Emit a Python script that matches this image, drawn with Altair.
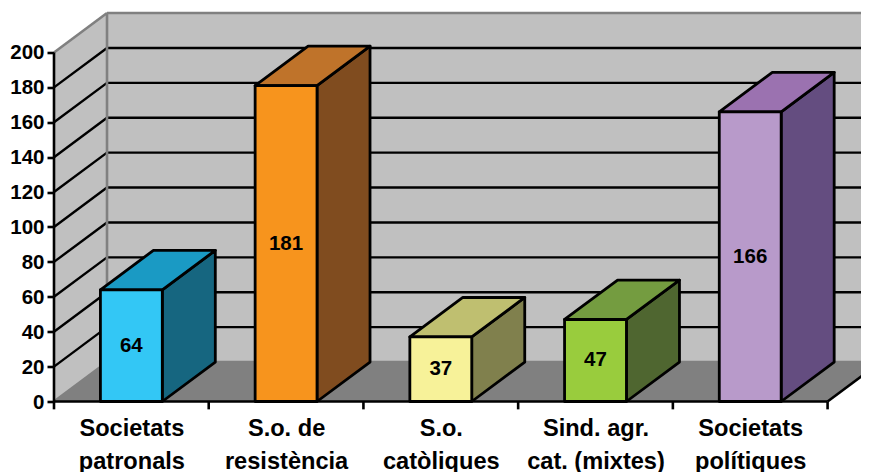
import json
import altair as alt
import pandas as pd

categories = ["Societats|patronals", "S.o. de|resistència", "S.o.|catòliques",
              "Sind. agr.|cat. (mixtes)", "Societats|polítiques"]
values = [64, 181, 37, 47, 166]
front_colors = ["#33C7F5", "#F7941D", "#F7F299", "#99CC3D", "#B89ACA"]
side_colors = ["#166680", "#804C1F", "#80804D", "#4F6630", "#644D80"]
top_colors = ["#1A9AC4", "#BF732A", "#BFBF70", "#749C40", "#9B72B0"]
grid_values = [20, 40, 60, 80, 100, 120, 140, 160, 180]
y_ticks = [0] + grid_values + [200]

D = 0.3426      # horizontal depth, category units
H = 22.6        # vertical depth, value units
W = 0.40        # bar width
N = len(values)
X_MAX = 5.216
Y_MAX = 225.2
WALL = "#C0C0C0"
FLOOR = "#808080"
EDGE = "#808080"

x_s = alt.Scale(domain=[0, X_MAX], nice=False, zero=False)
y_s = alt.Scale(domain=[0, Y_MAX], nice=False, zero=False)

axis_font = dict(labelFont="Liberation Sans", labelFontWeight="bold", labelColor="black")
split_expr = "split(" + json.dumps(categories, ensure_ascii=False) + "[floor(datum.value)], '|')"
x_axis = alt.Axis(values=[i + 0.5 for i in range(N)], labelExpr=split_expr, domain=False,
                  ticks=False, grid=False, labelFontSize=23.6, labelPadding=15,
                  labelLineHeight=33, labelOverlap=False, labelFlush=False, **axis_font)
y_axis = alt.Axis(values=y_ticks, domain=False, tickColor="black", tickSize=7,
                  tickWidth=2.6, grid=False, labelFontSize=20.5, labelPadding=3,
                  labelOffset=0.5, labelOverlap=False, labelFlush=False, **axis_font)


def X(field="x:Q"):
    return alt.X(field, scale=x_s, title=None, axis=x_axis)


def Y(field="y:Q"):
    return alt.Y(field, scale=y_s, title=None, axis=y_axis)


# background planes
planes = []
for px, lo, hi in [(0, 0, 200), (D, H, 200 + H)]:
    planes.append(dict(f="left", x=px, y=lo, y2=hi, c=WALL))
for px in [D, N + D]:
    planes.append(dict(f="back", x=px, y=H, y2=200 + H, c=WALL))
for px, lo, hi in [(0, 0, 0), (D, 0, H), (N, 0, H), (N + D, H, H)]:
    planes.append(dict(f="floor", x=px, y=lo, y2=hi, c=FLOOR))
planes = pd.DataFrame(planes)

back = alt.Chart(planes).mark_area(orient="vertical", stroke=None).encode(
    x=X(), y=Y(), y2="y2:Q", detail="f:N",
    color=alt.Color("c:N", scale=None))

# grid lines on the walls
seg = []
for v in grid_values:
    seg.append(dict(x=0, x2=D, y=v, y2=v + H))
    seg.append(dict(x=D, x2=N + D, y=v + H, y2=v + H))
grid = alt.Chart(pd.DataFrame(seg)).mark_rule(color="black", strokeWidth=2.4).encode(
    x=X(), x2="x2:Q", y=Y(), y2="y2:Q")

edges = pd.DataFrame([
    dict(x=0, x2=D, y=200, y2=200 + H),
    dict(x=D, x2=N + D, y=200 + H, y2=200 + H),
    dict(x=D, x2=D, y=H, y2=200 + H),
    dict(x=D, x2=N + D, y=H, y2=H),
    dict(x=0, x2=D, y=0, y2=H),
])
edge = alt.Chart(edges).mark_rule(color=EDGE, strokeWidth=2.6).encode(
    x=X(), x2="x2:Q", y=Y(), y2="y2:Q")

# black lines of the front of the box
lines = [dict(x=0, x2=N, y=0, y2=0), dict(x=N, x2=N + D, y=0, y2=H),
         dict(x=0, x2=0, y=0, y2=200)]
for i in range(N + 1):
    lines.append(dict(x=i, x2=i, y=0, y2=-4.5))
front_lines = alt.Chart(pd.DataFrame(lines)).mark_rule(color="black", strokeWidth=2.6).encode(
    x=X(), x2="x2:Q", y=Y(), y2="y2:Q")

# bars
fronts, sides, tops = [], [], []
for i, v in enumerate(values):
    x0 = i + 0.5 - W / 2
    x1 = x0 + W
    fronts.append(dict(x=x0, x2=x1, y=0, y2=v, c=front_colors[i], v=v, xc=i + 0.5, ym=v / 2))
    sides += [dict(f=i, x=x1, y=0, y2=v, c=side_colors[i]),
              dict(f=i, x=x1 + D, y=H, y2=v + H, c=side_colors[i])]
    tops += [dict(f=i, x=x0, y=v, y2=v, c=top_colors[i]),
             dict(f=i, x=x0 + D, y=v, y2=v + H, c=top_colors[i]),
             dict(f=i, x=x1, y=v, y2=v + H, c=top_colors[i]),
             dict(f=i, x=x1 + D, y=v + H, y2=v + H, c=top_colors[i])]

stroke = dict(stroke="black", strokeWidth=2.8, strokeJoin="round")
front = alt.Chart(pd.DataFrame(fronts)).mark_rect(**stroke).encode(
    x=X(), x2="x2:Q", y=Y(), y2="y2:Q", color=alt.Color("c:N", scale=None))
side = alt.Chart(pd.DataFrame(sides)).mark_area(orient="vertical", **stroke).encode(
    x=X(), y=Y(), y2="y2:Q", detail="f:N", color=alt.Color("c:N", scale=None))
top = alt.Chart(pd.DataFrame(tops)).mark_area(orient="vertical", **stroke).encode(
    x=X(), y=Y(), y2="y2:Q", detail="f:N", color=alt.Color("c:N", scale=None))
labels = alt.Chart(pd.DataFrame(fronts)).mark_text(
    font="Liberation Sans", fontWeight="bold", fontSize=20.5, color="black", baseline="middle").encode(
    x=X("xc:Q"), y=Y("ym:Q"), text="v:Q")

chart = alt.layer(back, grid, edge, front_lines, side, top, front, labels).properties(
    width=807, height=393,
    padding={"left": 46, "top": 0.5, "right": 0, "bottom": 70.5},
    autosize=alt.AutoSizeParams(type="none"),
    background="white",
).configure_view(stroke=None)

chart.save("out.html", embed_options={"renderer": "svg", "actions": False})
